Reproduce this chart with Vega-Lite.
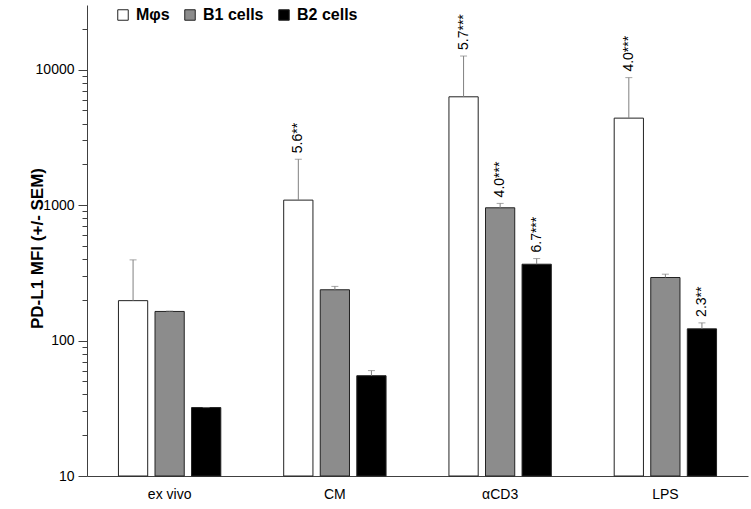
{
  "$schema": "https://vega.github.io/schema/vega-lite/v6.json",
  "width": 661,
  "height": 471,
  "autosize": "none",
  "padding": {"left": 87, "top": 5, "right": 3, "bottom": 33},
  "background": "white",
  "config": {
    "view": {"stroke": null},
    "font": "Liberation Sans"
  },
  "data": {
    "values": [
      {"group": "ex vivo", "cell": "Mφs", "mfi": 197, "err": 394, "label": ""},
      {"group": "ex vivo", "cell": "B1 cells", "mfi": 164, "err": 165, "label": ""},
      {"group": "ex vivo", "cell": "B2 cells", "mfi": 32, "err": 32, "label": ""},
      {"group": "CM", "cell": "Mφs", "mfi": 1088, "err": 2180, "label": "5.6**"},
      {"group": "CM", "cell": "B1 cells", "mfi": 237, "err": 251, "label": ""},
      {"group": "CM", "cell": "B2 cells", "mfi": 55, "err": 60, "label": ""},
      {"group": "αCD3", "cell": "Mφs", "mfi": 6300, "err": 12600, "label": "5.7***"},
      {"group": "αCD3", "cell": "B1 cells", "mfi": 955, "err": 1029, "label": "4.0***"},
      {"group": "αCD3", "cell": "B2 cells", "mfi": 366, "err": 403, "label": "6.7***"},
      {"group": "LPS", "cell": "Mφs", "mfi": 4385, "err": 8730, "label": "4.0***"},
      {"group": "LPS", "cell": "B1 cells", "mfi": 292, "err": 309, "label": ""},
      {"group": "LPS", "cell": "B2 cells", "mfi": 122, "err": 135, "label": "2.3**"}
    ]
  },
  "encoding": {
    "x": {
      "field": "group",
      "type": "nominal",
      "sort": ["ex vivo", "CM", "αCD3", "LPS"],
      "scale": {"paddingInner": 0, "paddingOuter": 0},
      "axis": {
        "title": null,
        "labelAngle": 0,
        "ticks": false,
        "labelPadding": 11,
        "labelFontSize": 14,
        "labelColor": "#000",
        "labelFont": "Liberation Sans",
        "domainColor": "#404040"
      }
    },
    "xOffset": {
      "field": "cell",
      "type": "nominal",
      "sort": ["Mφs", "B1 cells", "B2 cells"],
      "scale": {"paddingInner": 0.2, "paddingOuter": 0.86}
    }
  },
  "layer": [
    {
      "mark": {"type": "bar", "stroke": "#222", "strokeWidth": 1},
      "encoding": {
        "y": {
          "field": "mfi",
          "type": "quantitative",
          "scale": {"type": "log", "domain": [10, 30000], "nice": false},
          "axis": {
            "title": "PD-L1 MFI (+/- SEM)",
            "titleFontSize": 17,
            "titleFontWeight": "bold",
            "titleColor": "#000",
            "titleAngle": 270,
            "titleBaseline": "middle",
            "titleAlign": "center",
            "titleX": -50,
            "titleY": 243,
            "grid": false,
            "values": [10, 20, 30, 40, 50, 60, 70, 80, 90, 100, 200, 300, 400, 500, 600, 700, 800, 900, 1000, 2000, 3000, 4000, 5000, 6000, 7000, 8000, 9000, 10000, 20000],
            "labelExpr": "indexof([10,100,1000,10000], datum.value) >= 0 ? format(datum.value, 'd') : ''",
            "labelFontSize": 14,
            "labelColor": "#000",
            "labelPadding": 4,
            "tickSize": {"condition": {"test": "indexof([10,100,1000,10000], datum.value) >= 0", "value": 9}, "value": 5},
            "tickColor": "#404040",
            "domainColor": "#404040"
          }
        },
        "y2": {"datum": 10},
        "color": {
          "field": "cell",
          "type": "nominal",
          "sort": ["Mφs", "B1 cells", "B2 cells"],
          "scale": {"domain": ["Mφs", "B1 cells", "B2 cells"], "range": ["#ffffff", "#8c8c8c", "#000000"]},
          "legend": {
            "title": null,
            "orient": "none",
            "legendX": 28,
            "legendY": 2,
            "direction": "horizontal",
            "symbolType": "square",
            "symbolSize": 110,
            "symbolStrokeColor": "#222",
            "symbolStrokeWidth": 1,
            "labelFontSize": 16,
            "labelFontWeight": "bold",
            "labelColor": "#000",
            "labelOffset": 5,
            "columnPadding": 12
          }
        }
      }
    },
    {
      "mark": {"type": "rule", "color": "#808080", "strokeWidth": 1},
      "encoding": {
        "y": {"field": "mfi", "type": "quantitative"},
        "y2": {"field": "err"}
      }
    },
    {
      "mark": {"type": "tick", "color": "#808080", "size": 7, "thickness": 1},
      "encoding": {
        "y": {"field": "err", "type": "quantitative"}
      }
    },
    {
      "mark": {"type": "text", "angle": 270, "align": "left", "baseline": "middle", "dx": 6, "fontSize": 14, "color": "#000"},
      "encoding": {
        "y": {"field": "err", "type": "quantitative"},
        "text": {"field": "label"}
      }
    }
  ]
}
